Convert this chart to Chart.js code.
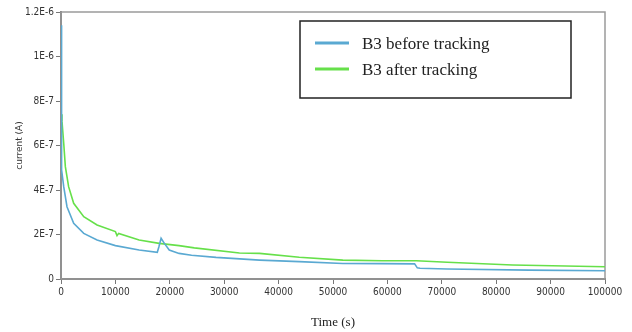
<!DOCTYPE html>
<html lang="en">
<head>
<meta charset="UTF-8">
<title>B3 current decay</title>
<script src="https://cdn.jsdelivr.net/npm/chart.js"></script>
<style>
  html, body { margin: 0; padding: 0; background: #fff; }
  #wrap { width: 632px; height: 332px; }
</style>
</head>
<body>
<div id="wrap"><canvas id="chart"></canvas></div>
<script>
// measured current (A) against time (s)
const beforeTime = [0, 40, 100, 180, 500, 1100, 2330, 4180, 6630, 10000, 14360, 17700, 18000, 18400, 19000, 19900, 21700, 24000, 28500, 36500, 43800, 51800, 59000, 65000, 65500, 66000, 71000, 86000, 100000];
const beforeCurrent = [1.14e-6, 7.5e-7, 5.6e-7, 4.9e-7, 4.15e-7, 3.25e-7, 2.5e-7, 2.05e-7, 1.75e-7, 1.5e-7, 1.3e-7, 1.2e-7, 1.45e-7, 1.83e-7, 1.6e-7, 1.3e-7, 1.15e-7, 1.07e-7, 0.97e-7, 0.85e-7, 0.78e-7, 0.70e-7, 0.69e-7, 0.68e-7, 0.5e-7, 0.48e-7, 0.45e-7, 0.40e-7, 0.37e-7];

const afterTime = [0, 180, 500, 800, 1400, 2330, 4180, 6630, 10000, 10300, 10600, 14360, 18050, 21700, 24500, 32800, 36500, 43800, 51800, 59000, 65300, 71000, 83000, 100000];
const afterCurrent = [7.4e-7, 7.1e-7, 6.1e-7, 5.05e-7, 4.15e-7, 3.4e-7, 2.8e-7, 2.43e-7, 2.13e-7, 1.95e-7, 2.05e-7, 1.75e-7, 1.6e-7, 1.5e-7, 1.4e-7, 1.17e-7, 1.15e-7, 0.98e-7, 0.85e-7, 0.82e-7, 0.82e-7, 0.75e-7, 0.63e-7, 0.55e-7];

const seriesNames = ['B3 before tracking', 'B3 after tracking'];
const seriesColors = ['#5aa9d2', '#66e04a'];

const yTicks = [0, 2e-7, 4e-7, 6e-7, 8e-7, 1e-6, 1.2e-6];

function toPoints(xs, ys) {
  return xs.map((x, i) => ({ x: x, y: ys[i] }));
}

function sciLabel(v) {
  if (v === 0) return '0';
  return Number(v.toPrecision(3)).toExponential().replace('e', 'E').replace('+', '');
}

// plot frame and boxed legend inside the plot area
const framePlugin = {
  id: 'frame',
  beforeDatasetsDraw(chart) {
    const { ctx, chartArea: a } = chart;
    ctx.save();
    ctx.strokeStyle = '#9a9a9a';
    ctx.lineWidth = 1.5;
    ctx.strokeRect(a.left, a.top, a.right - a.left, a.bottom - a.top);
    ctx.restore();
  },
  afterDraw(chart) {
    const ctx = chart.ctx;
    ctx.save();
    ctx.fillStyle = '#fff';
    ctx.fillRect(300, 21, 271, 77);
    ctx.strokeStyle = '#222';
    ctx.lineWidth = 1.5;
    ctx.strokeRect(300, 21, 271, 77);
    ctx.font = '17px "Liberation Serif", "Times New Roman", serif';
    ctx.textBaseline = 'middle';
    chart.data.datasets.forEach((ds, i) => {
      const y = 43 + i * 26;
      ctx.strokeStyle = ds.borderColor;
      ctx.lineWidth = 3;
      ctx.beginPath();
      ctx.moveTo(315, y);
      ctx.lineTo(349, y);
      ctx.stroke();
      ctx.fillStyle = '#222';
      ctx.fillText(ds.label, 362, y + 2);
    });
    ctx.restore();
  }
};

const tickFont = { family: '"Liberation Sans Narrow", "DejaVu Sans Condensed", sans-serif', size: 10 };

new Chart(document.getElementById('chart'), {
  type: 'line',
  data: {
    datasets: [
      {
        label: seriesNames[0],
        data: toPoints(beforeTime, beforeCurrent),
        borderColor: seriesColors[0],
        borderWidth: 1.6,
        pointRadius: 0,
        tension: 0
      },
      {
        label: seriesNames[1],
        data: toPoints(afterTime, afterCurrent),
        borderColor: seriesColors[1],
        borderWidth: 1.6,
        pointRadius: 0,
        tension: 0
      }
    ]
  },
  options: {
    responsive: true,
    maintainAspectRatio: false,
    animation: false,
    layout: { padding: { top: 12, right: 27, left: 0, bottom: 0 } },
    plugins: {
      legend: { display: false },
      tooltip: { enabled: false }
    },
    scales: {
      x: {
        type: 'linear',
        min: 0,
        max: 100000,
        afterFit(scale) { scale.height = 53; },
        ticks: {
          stepSize: 10000,
          color: '#333',
          font: tickFont,
          padding: 2,
          maxRotation: 0,
          callback: v => String(v)
        },
        grid: { drawOnChartArea: false, tickLength: 5, color: '#777', tickWidth: 1 },
        border: { color: '#777', width: 2 },
        title: {
          display: true,
          text: 'Time (s)',
          color: '#222',
          font: { family: '"Liberation Serif", "Times New Roman", serif', size: 13 },
          padding: { top: 0, bottom: 2 }
        }
      },
      y: {
        min: 0,
        max: 1.2e-6,
        afterFit(scale) { scale.width = 61; },
        afterBuildTicks(scale) { scale.ticks = yTicks.map(v => ({ value: v })); },
        ticks: {
          color: '#333',
          font: tickFont,
          padding: 2,
          callback: v => sciLabel(v)
        },
        grid: { drawOnChartArea: false, tickLength: 5, color: '#777', tickWidth: 1 },
        border: { color: '#777', width: 2 },
        title: {
          display: true,
          text: 'current (A)',
          color: '#333',
          font: { family: '"DejaVu Sans", sans-serif', size: 9 },
          padding: { top: 14, bottom: 0 }
        }
      }
    }
  },
  plugins: [framePlugin]
});
</script>
</body>
</html>
